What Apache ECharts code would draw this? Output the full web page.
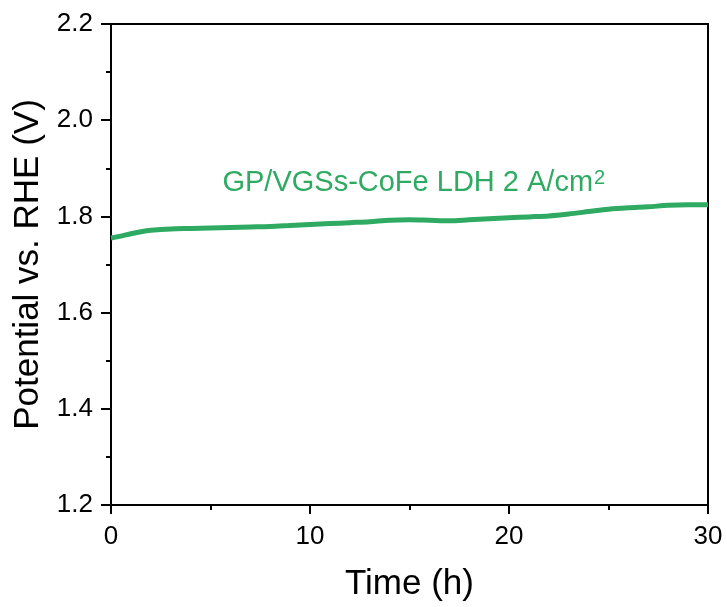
<!DOCTYPE html>
<html>
<head>
<meta charset="utf-8">
<script src="https://cdn.jsdelivr.net/npm/echarts@6/dist/echarts.min.js"></script>
<style>html,body{margin:0;padding:0;background:#fff;}#c{width:727px;height:607px;}</style>
</head>
<body>
<div id="c"></div>
<script>
const timeH = [0, 0.5, 1, 1.5, 2, 3, 4, 5, 6, 7, 8, 9, 10, 11, 12, 13, 14, 15, 16, 17, 18, 19, 20, 21, 22, 23, 24, 25, 26, 27, 28, 29, 30];
const potential = [1.755, 1.759, 1.764, 1.768, 1.771, 1.774, 1.775, 1.776, 1.777, 1.778, 1.779, 1.781, 1.783, 1.785, 1.787, 1.789, 1.792, 1.793, 1.792, 1.791, 1.793, 1.795, 1.797, 1.799, 1.801, 1.805, 1.810, 1.815, 1.818, 1.820, 1.823, 1.824, 1.824];
const xTicks = [0, 10, 20, 30];
const yTicks = [1.2, 1.4, 1.6, 1.8, 2.0, 2.2];
const seriesLabel = 'GP/VGSs-CoFe LDH 2 A/cm';
const seriesLabelSup = '2';
const labelAnchor = [5.6, 1.899];
const green = '#2eaa62';
const font = 'Liberation Sans, Arial, sans-serif';

const chart = echarts.init(document.getElementById('c'));
const data = timeH.map((t, i) => [t, potential[i]]);
chart.setOption({
  animation: false,
  backgroundColor: '#fff',
  grid: { left: 111, right: 19, top: 24, bottom: 100, show: true, borderColor: '#000', borderWidth: 2, backgroundColor: 'transparent' },
  xAxis: {
    type: 'value', min: xTicks[0], max: xTicks[xTicks.length - 1], interval: 10,
    name: 'Time (h)', nameLocation: 'middle', nameGap: 62,
    nameTextStyle: { fontFamily: font, fontSize: 35, color: '#000' },
    axisLine: { lineStyle: { color: '#000', width: 2 } },
    axisTick: { show: true, inside: false, length: 9, lineStyle: { color: '#000', width: 2 } },
    minorTick: { show: true, splitNumber: 2, length: 5, lineStyle: { color: '#000', width: 2 } },
    axisLabel: { fontFamily: font, fontSize: 26, color: '#000', margin: 19, formatter: v => String(v) },
    splitLine: { show: false }
  },
  yAxis: {
    type: 'value', min: yTicks[0], max: yTicks[yTicks.length - 1], interval: 0.2,
    name: 'Potential vs. RHE (V)', nameLocation: 'middle', nameGap: 62,
    nameTextStyle: { fontFamily: font, fontSize: 35, color: '#000' },
    axisLine: { lineStyle: { color: '#000', width: 2 } },
    axisTick: { show: true, inside: false, length: 10, lineStyle: { color: '#000', width: 2 } },
    minorTick: { show: true, splitNumber: 2, length: 5, lineStyle: { color: '#000', width: 2 } },
    axisLabel: { fontFamily: font, fontSize: 26, color: '#000', margin: 18, formatter: v => v.toFixed(1) },
    splitLine: { show: false }
  },
  series: [{
    type: 'line', data: data, showSymbol: false, smooth: 0.3,
    lineStyle: { color: green, width: 5 }, itemStyle: { color: green }
  }]
});
const p = chart.convertToPixel({ gridIndex: 0 }, labelAnchor);
chart.setOption({
  graphic: [{
    type: 'text', x: p[0], y: p[1],
    style: {
      text: '{a|' + seriesLabel + '}{b|' + seriesLabelSup + '}',
      verticalAlign: 'top', align: 'left',
      rich: {
        a: { fontFamily: font, fontSize: 29, fill: green, color: green },
        b: { fontFamily: font, fontSize: 20, fill: green, color: green, verticalAlign: 'top', padding: [0, 0, 0, 1] }
      }
    }
  }]
});
</script>
</body>
</html>
